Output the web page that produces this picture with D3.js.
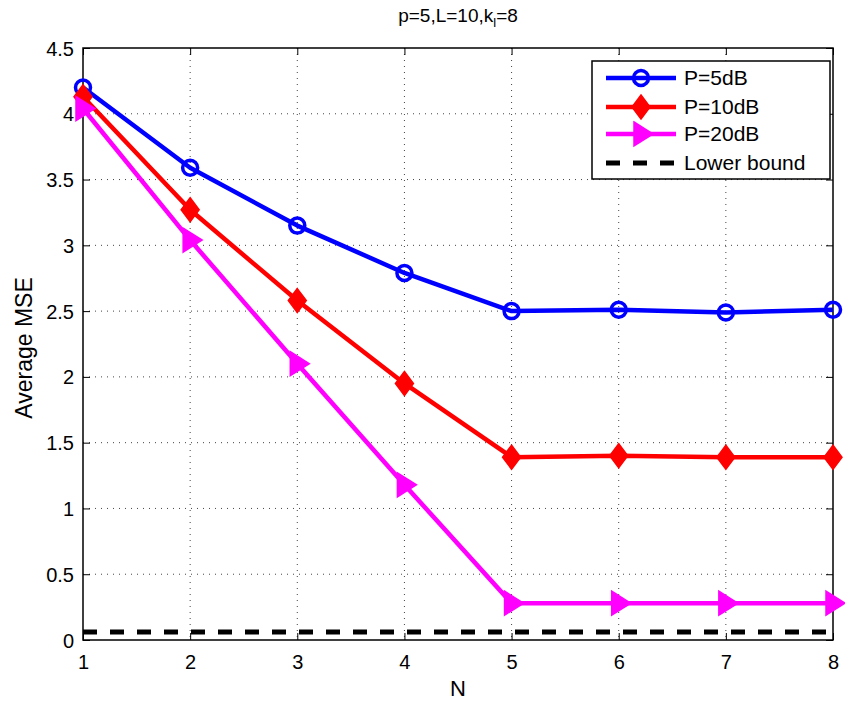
<!DOCTYPE html>
<html><head><meta charset="utf-8">
<script src="https://cdn.jsdelivr.net/npm/d3@7"></script>
<style>body{margin:0;background:#fff}svg{display:block}text{font-family:"Liberation Sans",Arial,sans-serif}</style>
</head><body><svg id="c" width="845" height="704"></svg>
<script>
const N = [1,2,3,4,5,6,7,8];
const p5 = [4.20,3.59,3.15,2.79,2.50,2.51,2.49,2.51];
const p10 = [4.13,3.27,2.58,1.95,1.39,1.40,1.39,1.39];
const p20 = [4.04,3.04,2.10,1.18,0.28,0.28,0.28,0.28];
const lowerBound = [0.06,0.06,0.06,0.06,0.06,0.06,0.06,0.06];
const xTicks = [1,2,3,4,5,6,7,8];
const yTicks = [0,0.5,1,1.5,2,2.5,3,3.5,4,4.5];
const seriesNames = ["P=5dB","P=10dB","P=20dB","Lower bound"];

const svg = d3.select("#c");
const L=83,R=833,T=48,B=640;
const x = d3.scaleLinear().domain([1,8]).range([L,R]);
const y = d3.scaleLinear().domain([0,4.5]).range([B,T]);

// grid
const g = svg.append("g");
g.selectAll(".gx").data(xTicks.slice(1,-1)).enter().append("line")
 .attr("x1",d=>x(d)).attr("x2",d=>x(d)).attr("y1",T).attr("y2",B)
 .attr("stroke","#444").attr("stroke-width",1).attr("stroke-dasharray","1,5");
g.selectAll(".gy").data(yTicks.slice(1,-1)).enter().append("line")
 .attr("y1",d=>y(d)).attr("y2",d=>y(d)).attr("x1",L).attr("x2",R)
 .attr("stroke","#444").attr("stroke-width",1).attr("stroke-dasharray","1,5");

// axes
const fs=20;
const ax = svg.append("g").attr("transform",`translate(0,${B})`).call(d3.axisBottom(x).tickValues(xTicks).tickFormat(d3.format("d")).tickSize(-7).tickPadding(15));
const axT = svg.append("g").attr("transform",`translate(0,${T})`).call(d3.axisTop(x).tickValues(xTicks).tickFormat("").tickSize(-7));
const ay = svg.append("g").attr("transform",`translate(${L},0)`).call(d3.axisLeft(y).tickValues(yTicks).tickFormat(d=>d).tickSize(-7).tickPadding(9));
const ayR = svg.append("g").attr("transform",`translate(${R},0)`).call(d3.axisRight(y).tickValues(yTicks).tickFormat("").tickSize(-7));
[ax,axT,ay,ayR].forEach(a=>{a.attr("font-size",fs).attr("font-family","Liberation Sans, Arial, sans-serif");a.select(".domain").remove();a.selectAll("line").attr("stroke","#000");a.selectAll("text").attr("font-size",fs).attr("fill","#000");});
ay.selectAll("text").attr("dy","0.35em");
svg.append("rect").attr("x",L).attr("y",T).attr("width",R-L).attr("height",B-T).attr("fill","none").attr("stroke","#000").attr("stroke-width",1.5);

// lower bound
const line = d3.line().x((d,i)=>x(N[i])).y(d=>y(d));
svg.append("path").attr("d",line(lowerBound)).attr("fill","none").attr("stroke","#000").attr("stroke-width",5).attr("stroke-dasharray","14,13");

const series=[
 {v:p5,c:"#0000ff",m:"circle"},
 {v:p10,c:"#ff0000",m:"diamond"},
 {v:p20,c:"#ff00ff",m:"tri"}];
function marker(sel,type,c){
 if(type==="circle") sel.append("circle").attr("r",7.5).attr("fill","none").attr("stroke",c).attr("stroke-width",3.5);
 else if(type==="diamond") sel.append("path").attr("d","M0,-12L9,0L0,12L-9,0Z").attr("fill",c).attr("stroke",c).attr("stroke-width",1.5);
 else sel.append("path").attr("d","M-7,-12L12,0L-7,12Z").attr("fill",c).attr("stroke",c).attr("stroke-width",1.5);
}
series.forEach(s=>{
 svg.append("path").attr("d",line(s.v)).attr("fill","none").attr("stroke",s.c).attr("stroke-width",4.5).attr("stroke-linejoin","round");
 s.v.forEach((d,i)=>{const m=svg.append("g").attr("transform",`translate(${x(N[i])},${y(d)})`);marker(m,s.m,s.c);});
});

// legend
const lg = svg.append("g");
lg.append("rect").attr("x",592).attr("y",61).attr("width",238).attr("height",118).attr("fill","#fff").attr("stroke","#000").attr("stroke-width",1.5);
const ly=[78,107,134,163];
series.forEach((s,i)=>{
 lg.append("line").attr("x1",606).attr("x2",676).attr("y1",ly[i]).attr("y2",ly[i]).attr("stroke",s.c).attr("stroke-width",4.5);
 marker(lg.append("g").attr("transform",`translate(641,${ly[i]})`),s.m,s.c);
});
lg.append("line").attr("x1",606).attr("x2",676).attr("y1",ly[3]).attr("y2",ly[3]).attr("stroke","#000").attr("stroke-width",5).attr("stroke-dasharray","14,13");
seriesNames.forEach((n,i)=>lg.append("text").attr("x",684).attr("y",ly[i]).attr("dy","0.35em").attr("font-size",21).text(n));

// labels
const tt = svg.append("text").attr("x",458).attr("y",22).attr("text-anchor","middle").attr("font-size",19);
tt.append("tspan").text("p=5,L=10,k");
tt.append("tspan").attr("font-size",13).attr("dy",5).text("l");
tt.append("tspan").attr("dy",-5).text("=8");
svg.append("text").attr("x",458).attr("y",696).attr("text-anchor","middle").attr("font-size",22).text("N");
svg.append("text").attr("transform","translate(32,348) rotate(-90)").attr("text-anchor","middle").attr("font-size",23).text("Average MSE");
</script></body></html>
